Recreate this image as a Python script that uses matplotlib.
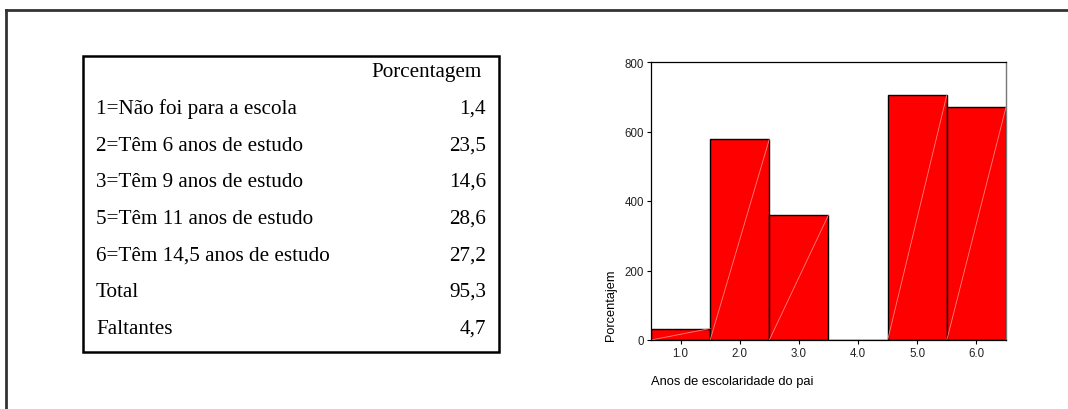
import numpy as np
import matplotlib.pyplot as plt
from matplotlib.patches import Rectangle
from matplotlib.lines import Line2D

# Table data
row_labels = ["1=Não foi para a escola", "2=Têm 6 anos de estudo", "3=Têm 9 anos de estudo",
              "5=Têm 11 anos de estudo", "6=Têm 14,5 anos de estudo", "Total", "Faltantes"]
row_values = ["1,4", "23,5", "14,6", "28,6", "27,2", "95,3", "4,7"]

# Histogram data
categories = [1.0, 2.0, 3.0, 4.0, 5.0, 6.0]
counts = [33, 578, 360, 0, 705, 670]
tick_labels = ["1.0", "2.0", "3.0", "4.0", "5.0", "6.0"]

W, H = 1068, 410
fig = plt.figure(figsize=(W / 100, H / 100), dpi=100)

def fx(px):
    return px / W

def fy(py):
    return 1 - py / H

# outer frame (only top and left visible)
fig.add_artist(Line2D([fx(6), 1], [fy(11), fy(11)], color="#333333", lw=2))
fig.add_artist(Line2D([fx(6), fx(6)], [fy(11), 0], color="#333333", lw=2))

# ---- table ----
fig.add_artist(Rectangle((fx(83), fy(353)), fx(499) - fx(83), fy(57) - fy(353),
                         transform=fig.transFigure, fill=False, edgecolor="black", lw=1.8))
serif = "Liberation Serif"
fs = 15.2
fig.text(fx(482), fy(77), "Porcentagem", ha="right", va="baseline", family=serif, fontsize=fs)
row_y = [114, 151, 187, 224, 261, 297, 334]
for lab, val, y in zip(row_labels, row_values, row_y):
    fig.text(fx(96), fy(y), lab, ha="left", va="baseline", family=serif, fontsize=fs)
    fig.text(fx(486), fy(y), val, ha="right", va="baseline", family=serif, fontsize=fs)

# ---- histogram ----
ax = fig.add_axes([fx(651), fy(341), fx(1006) - fx(651), fy(63) - fy(341)])
ax.bar(categories, counts, width=1.0, color="#ff0000", edgecolor="black", linewidth=1.0)
for c, v in zip(categories, counts):
    if v > 0:
        ax.plot([c - 0.5, c + 0.5], [0, v], color="#ff8080", lw=0.6)
ax.set_xlim(0.5, 6.5)
ax.set_ylim(0, 800)
ax.set_yticks([0, 200, 400, 600, 800])
ax.set_xticks(categories)
ax.set_xticklabels(tick_labels)
sans = "Liberation Sans"
for lab in ax.get_xticklabels() + ax.get_yticklabels():
    lab.set_family(sans)
    lab.set_fontsize(8.3)
ax.tick_params(axis="both", length=3, width=0.8, pad=2, colors="black", labelcolor="#222222")
for s in ["top", "left", "bottom"]:
    ax.spines[s].set_color("black")
    ax.spines[s].set_linewidth(0.9)
ax.spines["right"].set_color("#777777")
ax.spines["right"].set_linewidth(1.0)
ax.set_ylabel("Porcentajem", family=sans, fontsize=9.2)
ax.yaxis.set_label_coords(-0.095, 0.0, transform=ax.transAxes)
ax.yaxis.label.set_va("bottom")
ax.yaxis.label.set_ha("left")
fig.text(fx(651), fy(382), "Anos de escolaridade do pai", ha="left", va="center",
         family=sans, fontsize=9.3)

fig.savefig("out.png", dpi=100)
